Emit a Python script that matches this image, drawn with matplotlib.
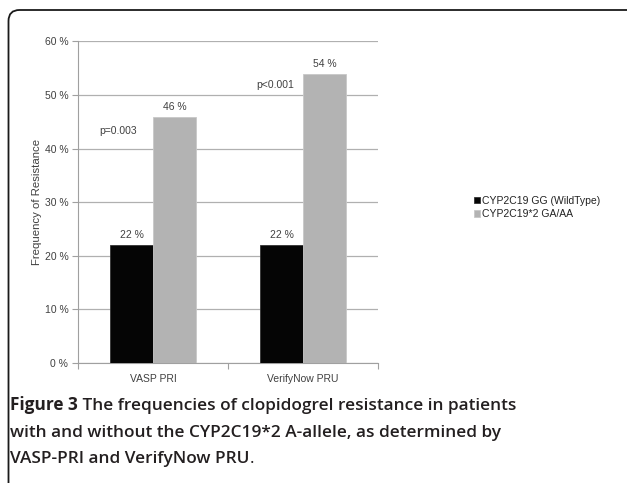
import matplotlib
matplotlib.use("Agg")
import matplotlib.pyplot as plt
from matplotlib.patches import FancyBboxPatch
from matplotlib.transforms import IdentityTransform
import numpy as np

categories = ["VASP PRI", "VerifyNow PRU"]
series_names = ["CYP2C19 GG (WildType)", "CYP2C19*2 GA/AA"]
wildtype = [22, 22]
variant = [46, 54]
pvalues = ["p=0.003", "p<0.001"]
yticks = [0, 10, 20, 30, 40, 50, 60]
ytick_labels = ["0 %", "10 %", "20 %", "30 %", "40 %", "50 %", "60 %"]
caption_bold = "Figure 3"
caption_lines = [
    " The frequencies of clopidogrel resistance in patients",
    "with and without the CYP2C19*2 A-allele, as determined by",
    "VASP-PRI and VerifyNow PRU",
]

W, H = 627, 483
fig = plt.figure(figsize=(W / 100, H / 100), dpi=100)
fig.patch.set_facecolor("white")

ax = fig.add_axes([78 / W, (H - 363) / H, 300 / W, 321.5 / H])
chart_font = "Liberation Sans"
tc = "#404040"

x = np.arange(len(categories))
bw = 0.285
b1 = ax.bar(x - bw / 2, wildtype, bw, color="#050505", edgecolor="#333333",
            linewidth=0.6, label=series_names[0], zorder=3)
b2 = ax.bar(x + bw / 2, variant, bw, color="#b3b3b3", edgecolor="#c8c8c8",
            linewidth=0.6, label=series_names[1], zorder=3)

for bars, vals in ((b1, wildtype), (b2, variant)):
    for r, v in zip(bars, vals):
        ax.annotate(f"{v} %", (r.get_x() + r.get_width() / 2, v),
                    xytext=(0, 3.5), textcoords="offset points",
                    ha="center", va="bottom", fontsize=7.5,
                    family=chart_font, color=tc)

p_pos = [(-0.233, 43.3), (0.813, 51.8)]
for (px, py), s in zip(p_pos, pvalues):
    ax.text(px, py, s, ha="center", va="center", fontsize=7.5,
            family=chart_font, color=tc)

ax.set_xlim(-0.5, 1.5)
ax.set_ylim(0, 60)
ax.set_yticks(yticks)
ax.set_yticklabels(ytick_labels, family=chart_font, fontsize=7.5, color=tc)
ax.set_xticks(x)
ax.set_xticklabels(categories, family=chart_font, fontsize=7.5, color=tc)
ax.set_xticks([-0.5, 0.5, 1.5], minor=True)
ax.tick_params(axis="x", which="major", length=0, pad=8)
ax.tick_params(axis="x", which="minor", length=4, color="#a0a0a0", width=0.8)
ax.tick_params(axis="y", length=4, color="#a0a0a0", width=0.8, pad=3)
ax.yaxis.grid(True, color="#b0b0b0", linewidth=0.9, zorder=0)
ax.set_axisbelow(True)
for s in ("top", "right"):
    ax.spines[s].set_visible(False)
for s in ("left", "bottom"):
    ax.spines[s].set_color("#a0a0a0")
    ax.spines[s].set_linewidth(0.8)
ax.set_ylabel("Frequency of Resistance", family=chart_font, fontsize=8.2,
              color=tc, labelpad=2)

leg = ax.legend(handles=[b1, b2], loc="center left",
                bbox_to_anchor=(469 / W, (H - 207.5) / H),
                bbox_transform=fig.transFigure, frameon=False,
                handlelength=0.55, handleheight=0.55, handletextpad=0.2,
                borderpad=0, labelspacing=0.3,
                prop={"family": chart_font, "size": 7.5})
for t in leg.get_texts():
    t.set_color("#222222")

# border box
box = FancyBboxPatch((8.5, -40), 640, H - 10 + 40,
                     boxstyle="round,pad=0,rounding_size=11",
                     transform=IdentityTransform(), facecolor="none",
                     edgecolor="#1a1a1a", linewidth=1.3)
fig.patches.append(box)

# caption
cap_font = "Open Sans"
cc = "#231f20"
fs = 12.4
baselines = [410, 437, 463]
x0 = 10
fig.canvas.draw()
r = fig.canvas.get_renderer()
tb = fig.text(x0 / W, (H - baselines[0]) / H, caption_bold, family=cap_font,
              fontsize=fs, fontweight="bold", color=cc, va="baseline")
ext = tb.get_window_extent(renderer=r)
fig.text(ext.x1 / W, (H - baselines[0]) / H, caption_lines[0], family=cap_font,
         fontsize=fs, fontweight="semibold", color=cc, va="baseline")
for ln, bl in zip(caption_lines[1:], baselines[1:]):
    fig.text(x0 / W, (H - bl) / H, ln, family=cap_font, fontsize=fs,
             fontweight="semibold", color=cc, va="baseline")
t3 = fig.texts[-1]
e3 = t3.get_window_extent(renderer=r)
fig.text(e3.x1 / W, (H - baselines[2]) / H, ".", family=cap_font, fontsize=fs,
         color=cc, va="baseline")

fig.savefig("out.png", dpi=100)
